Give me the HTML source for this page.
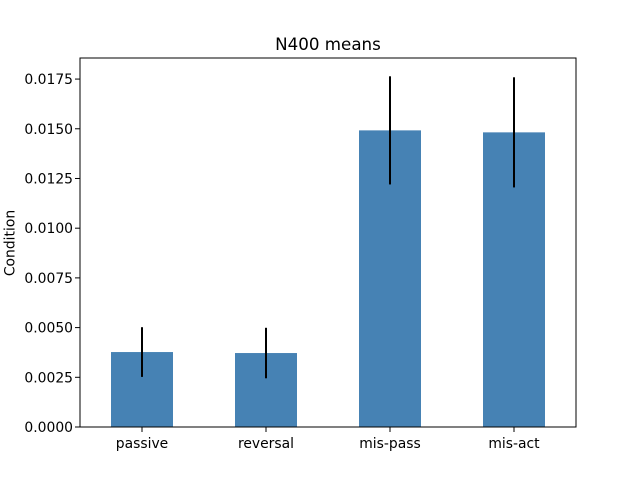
<!DOCTYPE html>
<html><head><meta charset="utf-8"><style>body{margin:0;background:#fff}svg{display:block;font-family:"DejaVu Sans","Liberation Sans",sans-serif}</style></head>
<body>
<svg id="chart" width="640" height="480">
<text x="328" y="50" text-anchor="middle" font-size="16.7">N400 means</text>
<text transform="translate(14.5,243) rotate(-90)" text-anchor="middle" font-size="13.9">Condition</text>
<g id="marks"></g>
<rect x="80" y="58" width="496" height="369" fill="none" stroke="#000" stroke-width="1"/>
</svg>
<script>
const categories=["passive","reversal","mis-pass","mis-act"];
const means=[0.00377,0.00372,0.01492,0.01482];
const errors=[0.00125,0.00127,0.00272,0.00277];
const yTicks=[0,0.0025,0.005,0.0075,0.01,0.0125,0.015,0.0175];
const L=80,R=576,T=58,B=427,yMax=0.01856;
const y=v=>B-(v/yMax)*(B-T);
const step=(R-L)/categories.length;
const x=i=>L+step*(i+0.5);
const g=document.getElementById('marks');
const NS="http://www.w3.org/2000/svg";
function mk(t,a){const e=document.createElementNS(NS,t);for(const k in a)e.setAttribute(k,a[k]);g.appendChild(e);return e;}
categories.forEach((c,i)=>{
 const bw=step*0.5;
 const r=mk('rect',{x:x(i)-bw/2,y:y(means[i]),width:bw,height:B-y(means[i]),fill:'#4682b4'});
 
 
 const e=mk('line',{x1:x(i),x2:x(i),y1:y(means[i]-errors[i]),y2:y(means[i]+errors[i]),stroke:'#000','stroke-width':2});
 
 
 const tk=mk('line',{x1:x(i),x2:x(i),y1:B,y2:B+5,stroke:'#000'});
 
 
 const t=mk('text',{x:x(i),y:B+21,'text-anchor':'middle','font-size':13.9});
 t.textContent=c;
 
 
});
yTicks.forEach(v=>{
 const tk=mk('line',{x1:L-5,x2:L,y1:y(v),y2:y(v),stroke:'#000'});
 
 
 const t=mk('text',{x:L-7,y:y(v)+5,'text-anchor':'end','font-size':13.9});
 t.textContent=v.toFixed(4);
 
 
});
</script>
</body></html>
